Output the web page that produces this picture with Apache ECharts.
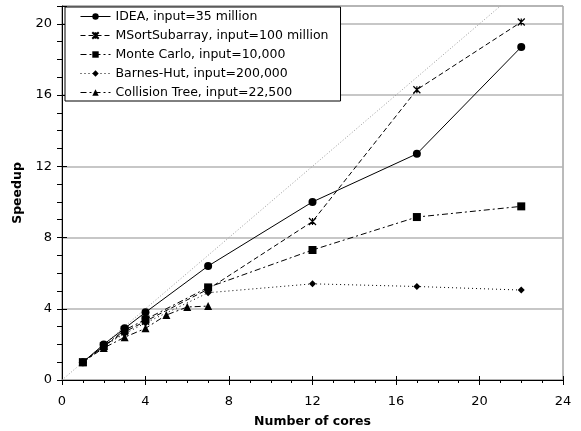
<!DOCTYPE html>
<html><head><meta charset="utf-8">
<script src="https://cdn.jsdelivr.net/npm/echarts@6/dist/echarts.min.js"></script>
<style>html,body{margin:0;padding:0;background:#fff}#c{width:581px;height:431px}</style>
</head><body><div id="c"></div>
<script>
const seriesNames = ['IDEA, input=35 million','MSortSubarray, input=100 million','Monte Carlo, input=10,000','Barnes-Hut, input=200,000','Collision Tree, input=22,500'];
const coresMain = [1,2,3,4,7,12,17,22];
const coresCollision = [1,2,3,4,5,6,7];
const ideaVals = [1,2.0,2.9,3.8,6.4,10.0,12.7,18.7];
const msortVals = [1,1.9,2.7,3.3,5.1,8.9,16.3,20.1];
const monteVals = [1,1.9,2.8,3.4,5.2,7.3,9.15,9.75];
const barnesVals = [1,1.9,2.6,3.2,4.9,5.4,5.25,5.05];
const collisionVals = [1,1.8,2.4,2.9,3.65,4.1,4.15];
const idealX = [0,21];
const xTicks = [0,4,8,12,16,20,24];
const yTicks = [0,4,8,12,16,20];

const pairs = (xs, ys) => xs.map((x,i)=>[x, ys[i]]);
const font = 'DejaVu Sans, Verdana, sans-serif';
const xPath = 'path://M0,0L10,10M10,0L0,10M5,0L5,10M0,0L10,10';
function mk(name, data, symbol, size, dash){
  return {name, type:'line', data, symbol, symbolSize:size, showSymbol:true,
    lineStyle:{color:'#000', width:1, type:dash},
    itemStyle:{color:'#000', borderColor:'#000', borderWidth: symbol===xPath?1.2:0},
    emphasis:{disabled:true}, animation:false, z:3};
}
const tickFmtX = v=>xTicks.includes(v)?String(v):'';
const tickFmtY = v=>yTicks.includes(v)?String(v):'';
const chart = echarts.init(document.getElementById('c'));
chart.setOption({
  animation:false,
  grid:{left:62, right:18, top:6, bottom:51, show:true, borderColor:'#777', borderWidth:1,
    outerBoundsMode:'none', containLabel:false},
  legend:{orient:'vertical', left:65, top:7, padding:[3,12,2,15], itemGap:6, itemWidth:30, itemHeight:8,
    backgroundColor:'#fff', borderColor:'#000', borderWidth:1,
    lineStyle:{width:1},
    textStyle:{fontFamily:font, fontSize:12.5, color:'#000'}, data:seriesNames},
  xAxis:[{type:'value', min:0, max:24, interval:4,
    name:'Number of cores', nameLocation:'middle', nameGap:35,
    nameTextStyle:{fontFamily:font, fontSize:12.5, fontWeight:'bold', color:'#000'},
    axisLine:{show:true, onZero:false, lineStyle:{color:'#000', width:1}},
    axisTick:{show:true, inside:false, length:5, lineStyle:{color:'#000'}},
    minorTick:{show:true, splitNumber:4, length:3, lineStyle:{color:'#000'}},
    axisLabel:{fontFamily:font, fontSize:13, color:'#000', margin:15, formatter:tickFmtX},
    splitLine:{show:false}},
   {type:'value', min:0, max:24, interval:4, position:'bottom', offset:0,
    axisLine:{show:false}, axisLabel:{show:false}, splitLine:{show:false},
    axisTick:{show:true, inside:true, length:4, lineStyle:{color:'#000'}}}],
  yAxis:[{type:'value', min:0, max:21, interval:4,
    name:'Speedup', nameLocation:'middle', nameGap:35, nameRotate:90,
    nameTextStyle:{fontFamily:font, fontSize:12.5, fontWeight:'bold', color:'#000'},
    axisLine:{show:true, onZero:false, lineStyle:{color:'#000', width:1}},
    axisTick:{show:true, length:5, lineStyle:{color:'#000'}},
    minorTick:{show:true, splitNumber:4, length:5, lineStyle:{color:'#000'}},
    axisLabel:{fontFamily:font, fontSize:13, color:'#000', margin:10, formatter:tickFmtY},
    splitLine:{show:true, lineStyle:{color:'#b4b4b4', width:1.5}}},
   {type:'value', min:0, max:21, interval:4, position:'left', offset:0,
    axisLine:{show:false}, axisLabel:{show:false}, splitLine:{show:false},
    axisTick:{show:true, inside:true, length:5, lineStyle:{color:'#000'}}}],
  series:[
    {name:'ideal', type:'line', data:idealX.map(v=>[v,v]), symbol:'none',
      lineStyle:{color:'#999', width:1, type:[1,2]}, z:2, emphasis:{disabled:true}, silent:true},
    mk(seriesNames[0], pairs(coresMain, ideaVals), 'circle', 8, 'solid'),
    mk(seriesNames[1], pairs(coresMain, msortVals), xPath, 7, [5,3]),
    mk(seriesNames[2], pairs(coresMain, monteVals), 'rect', 8, [6,3,2,3]),
    mk(seriesNames[3], pairs(coresMain, barnesVals), 'diamond', 7, [1,3]),
    mk(seriesNames[4], pairs(coresCollision, collisionVals), 'triangle', 8, [6,3,2,3])
  ]
});
</script></body></html>
